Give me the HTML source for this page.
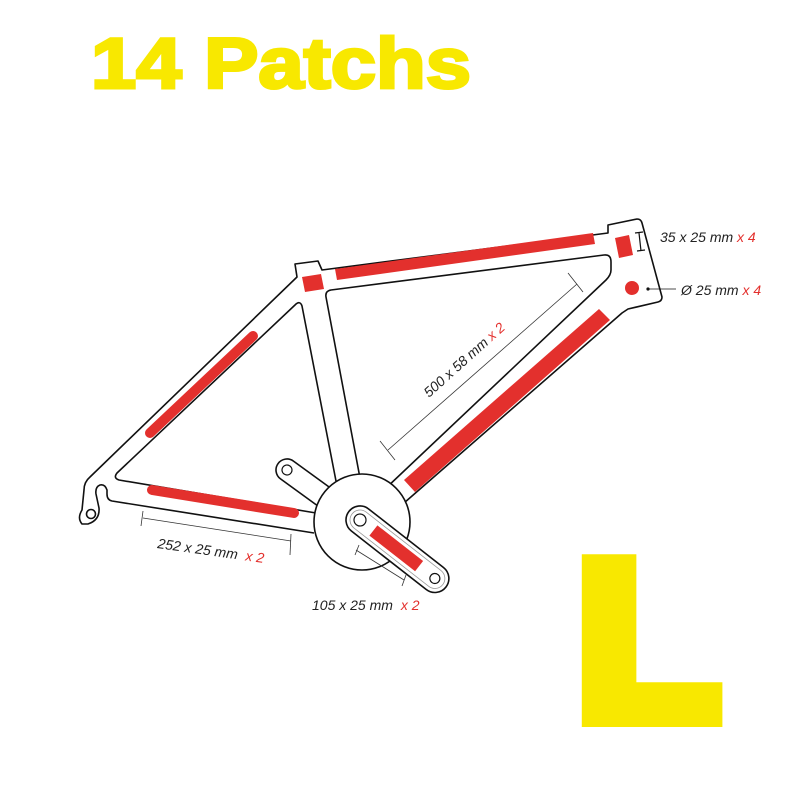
<!DOCTYPE html>
<html><head><meta charset="utf-8"><style>html,body{margin:0;padding:0;background:#fff}svg{display:block}</style></head>
<body>
<svg width="800" height="800" viewBox="0 0 800 800" xmlns="http://www.w3.org/2000/svg">
<rect width="800" height="800" fill="#fff"/>
<text x="91" y="88" font-family="Liberation Sans, sans-serif" font-weight="bold" font-size="71" fill="#f8e800" stroke="#f8e800" stroke-width="3" textLength="380" lengthAdjust="spacingAndGlyphs">14 Patchs</text>
<text transform="translate(583,0) scale(1.05,1) translate(-583,0)" x="577" y="717" font-family="Liberation Sans, sans-serif" font-weight="bold" font-size="222" fill="#f8e800" stroke="#f8e800" stroke-width="20" stroke-linejoin="miter">L</text>

<g fill="none" stroke="#111" stroke-width="1.6" stroke-linejoin="round">
<path d="M314,533 L112,501 Q107,500 107,494 L107,490 Q105,484 100,485 Q95,487 96,494 L99,508 Q100,520 88,524 L82,524 Q77,518 82,510 L84,490 Q84,482 90,477 L297,277 L295,264 L318,261 L322,270 L608,233 L608,225 L637,219 Q641,219 642,223 L662,297 Q662,301 658,302 L628,309 L622,313 L404,503"/>
<path d="M360,478 L326,297 Q325,291 331,290 L604,255 Q611,254 611,262 L611,270 Q611,275 606,280 L385,489"/>
<path d="M336,481 L302,306 Q300,300 295,305 L117,473 Q113,478 119,480 L316,513"/>
<circle cx="91" cy="514" r="4.5" fill="#fff"/>
</g>
<g transform="translate(287,470) rotate(36)">
<rect x="-11" y="-11" width="72" height="22" rx="11" fill="#fff" stroke="#111" stroke-width="1.6"/>
<circle cx="0" cy="0" r="5" fill="#fff" stroke="#111" stroke-width="1.2"/>
</g>
<circle cx="362" cy="522" r="48" fill="#fff" stroke="#111" stroke-width="1.6"/>
<g transform="translate(360,520) rotate(38)">
<rect x="-14" y="-14" width="123" height="28" rx="14" fill="#fff" stroke="#111" stroke-width="1.6"/>
<rect x="-10" y="-10" width="115" height="20" rx="10" fill="none" stroke="#999" stroke-width="0.8"/>
<circle cx="0" cy="0" r="6" fill="#fff" stroke="#111" stroke-width="1.2"/>
<circle cx="95" cy="0" r="5" fill="#fff" stroke="#111" stroke-width="1.2"/>
<rect x="17" y="-6.5" width="58" height="13" fill="#e3302d"/>
</g>

<g fill="#e3302d">
<polygon points="335,269 593,233 595,244 337,280"/>
<polygon points="302,277 321,274 324,289 305,292"/>
<polygon points="615,238 629,235 633,255 619,258"/>
<circle cx="632" cy="288" r="7"/>
<polygon points="599,309 610,320 415,492 404,480"/>
</g>
<g stroke="#e3302d" stroke-width="10" stroke-linecap="round">
<line x1="150" y1="433" x2="253" y2="336"/>
<line x1="152" y1="490" x2="294" y2="513"/>
</g>

<g stroke="#333" stroke-width="0.8" fill="none">
<line x1="388" y1="450" x2="577" y2="284"/>
<line x1="380" y1="441" x2="395" y2="460"/>
<line x1="568" y1="273" x2="583" y2="292"/>
<line x1="143" y1="518" x2="291" y2="541"/>
<line x1="143" y1="511" x2="141" y2="526"/>
<line x1="291" y1="534" x2="290" y2="555"/>
<line x1="356" y1="550" x2="404" y2="580"/>
<line x1="359" y1="545" x2="355" y2="555"/>
<line x1="406" y1="575" x2="402" y2="586"/>
</g>
<g stroke="#111" stroke-width="1.2">
<line x1="639" y1="233" x2="641" y2="251"/>
<line x1="635" y1="233" x2="643" y2="232"/>
<line x1="637" y1="251" x2="645" y2="250"/>
<line x1="648" y1="289" x2="676" y2="289" stroke-width="0.8"/>
</g>
<circle cx="648" cy="289" r="1.6" fill="#111"/>

<g font-family="Liberation Sans Narrow, Liberation Sans, sans-serif" font-style="italic" font-size="14" fill="#222">
<text x="660" y="242">35 x 25 mm <tspan fill="#e3302d">x 4</tspan></text>
<text x="681" y="295">Ø 25 mm <tspan fill="#e3302d">x 4</tspan></text>
<text x="312" y="610">105 x 25 mm <tspan fill="#e3302d" dx="4">x 2</tspan></text>
<text transform="translate(157,548) rotate(8)">252 x 25 mm <tspan fill="#e3302d" dx="4">x 2</tspan></text>
<text transform="translate(429,398) rotate(-42)">500 x 58 mm <tspan fill="#e3302d">x 2</tspan></text>
</g>
</svg>
</body></html>
